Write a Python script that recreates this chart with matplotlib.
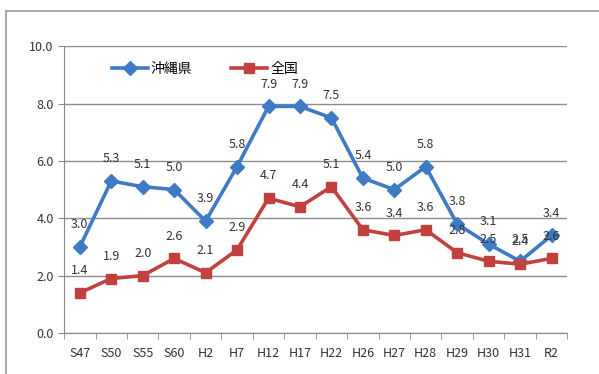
import matplotlib as mplt
mplt.use("Agg")
import matplotlib.pyplot as plt
from matplotlib.lines import Line2D

years = ["S47", "S50", "S55", "S60", "H2", "H7", "H12", "H17", "H22",
         "H26", "H27", "H28", "H29", "H30", "H31", "R2"]
okinawa = [3.0, 5.3, 5.1, 5.0, 3.9, 5.8, 7.9, 7.9, 7.5, 5.4, 5.0, 5.8, 3.8, 3.1, 2.5, 3.4]
national = [1.4, 1.9, 2.0, 2.6, 2.1, 2.9, 4.7, 4.4, 5.1, 3.6, 3.4, 3.6, 2.8, 2.5, 2.4, 2.6]

plt.rcParams['font.family'] = ['Liberation Sans Narrow', 'Noto Sans CJK JP', 'DejaVu Sans']

fig = plt.figure(figsize=(5.99, 3.74), dpi=100)
ax = fig.add_axes([0.107, 0.1096, 0.840, 0.767])

x = list(range(len(years)))
blue = "#3F7BC4"
red = "#C2413E"

ax.plot(x, okinawa, color=blue, lw=2.6, marker="D", ms=7.5, label="沖縄県", zorder=3)
ax.plot(x, national, color=red, lw=2.6, marker="s", ms=7.5, label="全国", zorder=3)

for xi, v in zip(x, okinawa):
    ax.annotate(f"{v:.1f}", (xi, v), xytext=(0, 16), textcoords="offset points",
                ha="center", va="center", fontsize=9, color="#333333")
for xi, v in zip(x, national):
    ax.annotate(f"{v:.1f}", (xi, v), xytext=(0, 16), textcoords="offset points",
                ha="center", va="center", fontsize=9, color="#333333")

ax.set_xlim(-0.5, len(years) - 0.5)
ax.set_ylim(0, 10)
ax.set_yticks([0, 2, 4, 6, 8, 10])
ax.set_yticklabels([f"{t:.1f}" for t in [0, 2, 4, 6, 8, 10]], fontsize=9, color="#333333")
ax.set_xticks(x)
ax.set_xticklabels(years, fontsize=9, color="#333333")
ax.set_xticks([i - 0.5 for i in range(len(years) + 1)], minor=True)
ax.tick_params(axis="x", which="major", length=0, pad=10)
ax.tick_params(axis="x", which="minor", length=4, color="#888888")
ax.tick_params(axis="y", length=4, color="#888888")

ax.grid(axis="y", color="#8c8c8c", lw=1)
ax.set_axisbelow(True)
for s in ["top", "right"]:
    ax.spines[s].set_visible(False)
ax.spines["left"].set_color("#888888")
ax.spines["bottom"].set_color("#888888")

ax.legend(loc="upper left", bbox_to_anchor=(0.07, 0.99), ncol=2, frameon=False,
          fontsize=10, handlelength=2.6, columnspacing=2.8, handletextpad=0.2)

# outer chart border
fig.add_artist(Line2D([0.010, 1.0], [0.971, 0.971], color="#999999", lw=1.2))
fig.add_artist(Line2D([0.010, 0.010], [0.0, 0.971], color="#999999", lw=1.2))

fig.savefig("out.png", dpi=100)
